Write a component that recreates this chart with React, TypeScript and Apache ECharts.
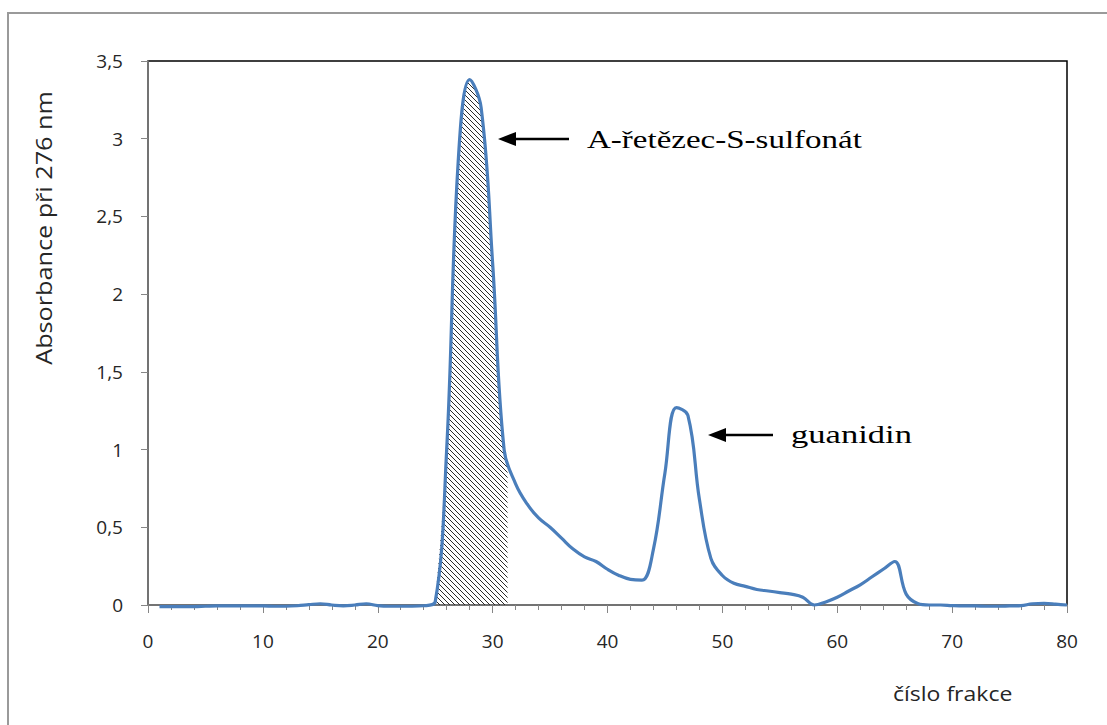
import React, { useEffect, useRef } from "react";
import * as echarts from "echarts";

// Fraction number (x) and absorbance at 276 nm (y)
const fractions: number[] = [
  1, 2, 3, 4, 5, 6, 7, 8, 9, 10, 11, 12, 13, 14, 15, 16, 17, 18, 19, 20,
  21, 22, 23, 24, 25, 26, 27, 28, 29, 30, 31, 32, 33, 34, 35, 36, 37, 38, 39, 40,
  41, 42, 43, 44, 45, 46, 47, 48, 49, 50, 51, 52, 53, 54, 55, 56, 57, 58, 59, 60,
  61, 62, 63, 64, 65, 66, 67, 68, 69, 70, 71, 72, 73, 74, 75, 76, 77, 78, 79, 80,
];
const absorbance: number[] = [
  -0.01, -0.01, -0.01, -0.01, -0.008, -0.006, -0.006, -0.006, -0.006, -0.006,
  -0.008, -0.008, -0.005, 0.002, 0.008, 0.0, -0.005, 0.0, 0.008, -0.004,
  -0.008, -0.008, -0.008, -0.005, 0.02, 1.0, 2.85, 3.38, 3.2, 2.2,
  1.0, 0.78, 0.65, 0.56, 0.5, 0.43, 0.36, 0.31, 0.28, 0.23,
  0.19, 0.165, 0.16, 0.36, 0.85, 1.27, 1.22, 0.68, 0.3, 0.19,
  0.14, 0.12, 0.1, 0.09, 0.08, 0.07, 0.05, 0.0, 0.02, 0.05,
  0.09, 0.13, 0.18, 0.23, 0.28, 0.07, 0.01, 0.0, 0.0, -0.004,
  -0.006, -0.006, -0.008, -0.008, -0.006, -0.004, 0.008, 0.01, 0.006, 0.0,
];
// Hatched region (A-chain S-sulfonate fractions)
const hatchX: number[] = [25, 26, 27, 28, 29, 30, 31, 31.3];
const hatchY: number[] = [0.02, 1.0, 2.85, 3.38, 3.2, 2.2, 1.0, 0.9];

const yTicks: number[] = [0, 0.5, 1, 1.5, 2, 2.5, 3, 3.5];
const xTicks: number[] = [0, 10, 20, 30, 40, 50, 60, 70, 80];

const yTitle = "Absorbance při 276 nm";
const xTitle = "číslo frakce";
const label1 = "A-řetězec-S-sulfonát";
const label2 = "guanidin";

function makeHatch(): string {
  const c = document.createElement("canvas");
  c.width = 5;
  c.height = 5;
  const ctx = c.getContext("2d")!;
  ctx.strokeStyle = "#2a2a2a";
  ctx.lineWidth = 1;
  ctx.beginPath();
  ctx.moveTo(-1, -1);
  ctx.lineTo(6, 6);
  ctx.moveTo(-1, 4);
  ctx.lineTo(1, 6);
  ctx.moveTo(4, -1);
  ctx.lineTo(6, 1);
  ctx.stroke();
  return c.toDataURL();
}

function arrow(tipX: number, y: number, tailX: number) {
  return [
    {
      type: "line",
      shape: { x1: tipX + 14, y1: y, x2: tailX, y2: y },
      style: { stroke: "#000", lineWidth: 2.5 },
      z: 100,
    },
    {
      type: "polygon",
      shape: { points: [[tipX, y], [tipX + 18, y - 7], [tipX + 18, y + 7]] },
      style: { fill: "#000" },
      z: 100,
    },
  ];
}

export default function App() {
  const ref = useRef<HTMLDivElement>(null);
  useEffect(() => {
    if (!ref.current) return;
    const chart = echarts.init(ref.current, null, { renderer: "svg" });
    const hatch = makeHatch();
    const fmt = (v: number) => String(v).replace(".", ",");
    chart.setOption({
      animation: false,
      backgroundColor: "#fff",
      grid: {
        left: 148,
        right: 40,
        top: 61,
        bottom: 120,
        show: true,
        borderColor: "#000",
        borderWidth: 1.5,
        backgroundColor: "transparent",
      },
      xAxis: {
        type: "value",
        min: xTicks[0],
        max: xTicks[xTicks.length - 1],
        interval: 10,
        axisLine: { show: true, lineStyle: { color: "#868686", width: 1.5 } },
        axisTick: { show: true, length: 8, lineStyle: { color: "#868686" } },
        minorTick: { show: true, splitNumber: 5, length: 5, lineStyle: { color: "#868686" } },
        splitLine: { show: false },
        axisLabel: {
          margin: 26,
          fontFamily: "Open Sans",
          fontSize: 19,
          color: "#262626",
        },
      },
      yAxis: {
        type: "value",
        min: yTicks[0],
        max: yTicks[yTicks.length - 1],
        interval: 0.5,
        axisLine: { show: true, lineStyle: { color: "#868686", width: 1.5 } },
        axisTick: { show: true, length: 7, lineStyle: { color: "#868686" } },
        splitLine: { show: false },
        axisLabel: {
          margin: 25,
          fontFamily: "Open Sans",
          fontSize: 19,
          color: "#262626",
          formatter: (v: number) => fmt(v),
        },
      },
      series: [
        {
          type: "line",
          data: hatchX.map((x, i) => [x, hatchY[i]]),
          smooth: 0.4,
          symbol: "none",
          lineStyle: { width: 0, opacity: 0 },
          areaStyle: {
            color: { image: hatch, repeat: "repeat", imageWidth: 5, imageHeight: 5 },
            opacity: 1,
          },
          z: 1,
          silent: true,
        },
        {
          type: "line",
          data: fractions.map((x, i) => [x, absorbance[i]]),
          smooth: 0.4,
          symbol: "none",
          clip: false,
          lineStyle: { color: "#4a7ebb", width: 3.2 },
          z: 2,
        },
      ],
      graphic: [
        {
          type: "rect",
          shape: { x: 8, y: 13, width: 1110, height: 730 },
          style: { fill: "none", stroke: "#9a9a9a", lineWidth: 2 },
          z: 0,
        },
        {
          type: "text",
          x: 44,
          y: 228,
          rotation: Math.PI / 2,
          scaleX: 1.2,
          style: {
            text: yTitle,
            fontFamily: "Open Sans",
            fontSize: 21,
            fill: "#262626",
            align: "center",
            verticalAlign: "middle",
          },
        },
        {
          type: "text",
          x: 893,
          y: 693,
          scaleX: 1.15,
          style: {
            text: xTitle,
            fontFamily: "Open Sans",
            fontSize: 20,
            fill: "#262626",
            align: "left",
            verticalAlign: "middle",
          },
        },
        {
          type: "text",
          x: 587,
          y: 139,
          scaleX: 1.27,
          style: {
            text: label1,
            fontFamily: "Liberation Serif",
            fontSize: 26,
            fill: "#000",
            align: "left",
            verticalAlign: "middle",
          },
        },
        {
          type: "text",
          x: 791,
          y: 435,
          scaleX: 1.33,
          style: {
            text: label2,
            fontFamily: "Liberation Serif",
            fontSize: 26,
            fill: "#000",
            align: "left",
            verticalAlign: "middle",
          },
        },
        ...arrow(498, 139, 569),
        ...arrow(708, 435, 773),
      ],
    });
    return () => chart.dispose();
  }, []);
  return (
    <div
      ref={ref}
      style={{ position: "fixed", left: 0, top: 0, width: 1107, height: 725 }}
    />
  );
}
